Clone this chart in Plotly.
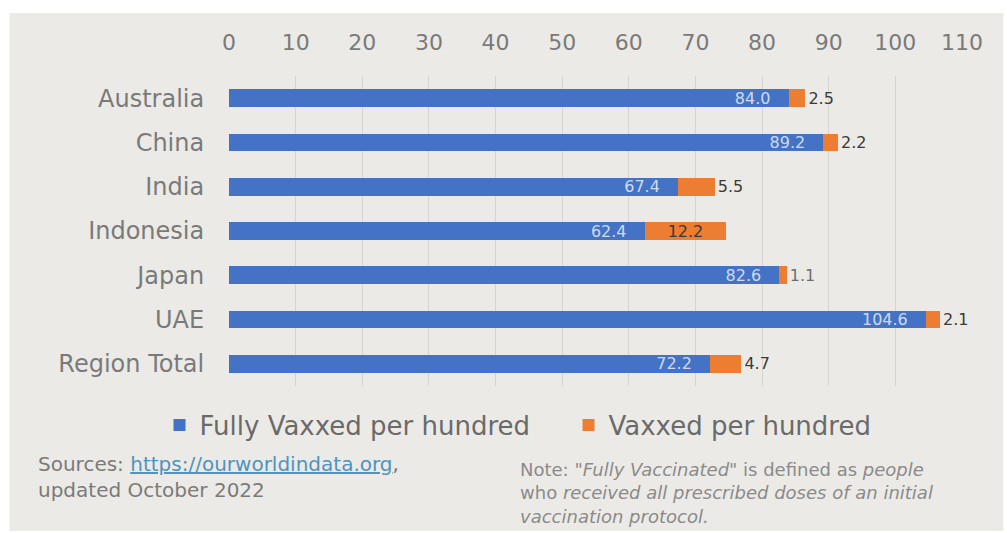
import plotly.graph_objects as go

categories = ["Australia", "China", "India", "Indonesia", "Japan", "UAE", "Region Total"]
fully_vaxxed = [84.0, 89.2, 67.4, 62.4, 82.6, 104.6, 72.2]
vaxxed = [2.5, 2.2, 5.5, 12.2, 1.1, 2.1, 4.7]
x_ticks = list(range(0, 111, 10))

W, H = 1007, 533
ML, MR, MT, MB = 228.5, 45.3, 76, 147
PW = W - ML - MR
PH = H - MT - MB

def px(xp):
    return (xp - ML) / PW

def py(yp):
    return (H - MB - yp) / PH

FONT = "DejaVu Sans"
GRAY = "#7a7a7a"
NB = "\u00a0"

fig = go.Figure()
fig.add_trace(go.Bar(
    y=categories, x=fully_vaxxed, orientation="h",
    name="Fully Vaxxed per hundred",
    marker=dict(color="#4472C4", line=dict(width=0)),
    text=[f"{v:.1f}" + NB * 3 for v in fully_vaxxed],
    textposition="inside", insidetextanchor="end",
    textfont=dict(family=FONT, size=16, color="rgba(225,232,246,0.9)"),
    constraintext="none", cliponaxis=False,
))
fig.add_trace(go.Bar(
    y=categories, x=vaxxed, orientation="h",
    name="Vaxxed per hundred",
    marker=dict(color="#ED7D31", line=dict(width=0)),
    text=[f"{v:.1f}" for v in vaxxed],
    textposition=["outside", "outside", "outside", "inside", "outside", "outside", "outside"],
    insidetextanchor="middle",
    textfont=dict(family=FONT, size=16,
                  color=["#3a3a3a", "#3a3a3a", "#3a3a3a", "#3a3a3a", "#6e6e6e", "#3a3a3a", "#3a3a3a"]),
    constraintext="none", cliponaxis=False,
))

fig.update_layout(
    width=W, height=H,
    margin=dict(l=ML, r=MR, t=MT, b=MB, pad=0),
    barmode="stack", bargap=0.6,
    paper_bgcolor="white", plot_bgcolor="rgba(0,0,0,0)",
    font=dict(family=FONT, color=GRAY),
    showlegend=True,
    legend=dict(
        orientation="h", x=px(159), y=py(425), xanchor="left", yanchor="middle",
        font=dict(family=FONT, size=26, color="#6a6a6a"),
        entrywidth=364, entrywidthmode="pixels",
        bgcolor="rgba(0,0,0,0)", traceorder="normal",
    ),
    xaxis=dict(
        side="top", range=[0, 110], tickvals=x_ticks, ticktext=[str(t) for t in x_ticks],
        showgrid=True, gridcolor="#d6d4d0", gridwidth=1, zeroline=False,
        showline=False, ticks="outside", ticklen=16, tickcolor="rgba(0,0,0,0)",
        tickfont=dict(family=FONT, size=22, color=GRAY), fixedrange=True,
    ),
    yaxis=dict(
        categoryorder="array", categoryarray=categories, autorange="reversed",
        showgrid=False, zeroline=False, showline=False,
        ticks="outside", ticklen=19, tickcolor="rgba(0,0,0,0)",
        tickfont=dict(family=FONT, size=24, color=GRAY), fixedrange=True,
    ),
    shapes=[dict(
        type="rect", xref="paper", yref="paper", layer="below",
        x0=px(9), x1=px(1003), y0=py(531), y1=py(13),
        fillcolor="#ECEAE6", line=dict(width=0),
    )],
    annotations=[
        dict(
            xref="paper", yref="paper", x=px(35), y=py(450), xanchor="left", yanchor="top",
            align="left", showarrow=False,
            text='Sources: <a href="https://ourworldindata.org"><span style="color:#4f93c0"><u>https://ourworldindata.org</u></span></a>,<br>updated October 2022',
            font=dict(family=FONT, size=20, color=GRAY),
        ),
        dict(
            xref="paper", yref="paper", x=px(518), y=py(457), xanchor="left", yanchor="top",
            align="left", showarrow=False,
            text='Note: "<i>Fully Vaccinated</i>" is defined as <i>people</i><br>who <i>received all prescribed doses of an initial</i><br><i>vaccination protocol.</i>',
            font=dict(family=FONT, size=18, color="#8a8a8a"),
        ),
    ],
)

fig.write_html("out.html")
